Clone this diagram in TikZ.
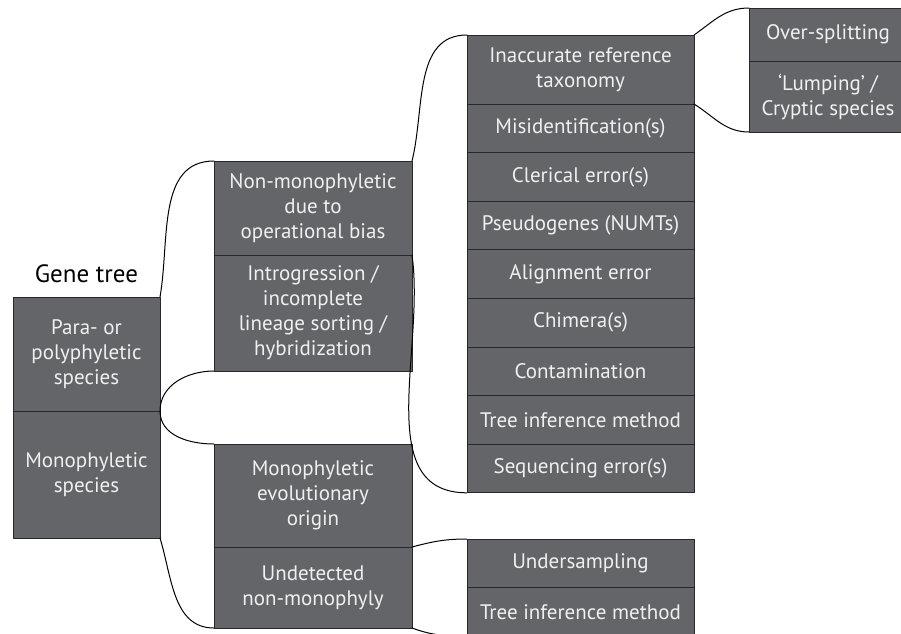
\documentclass[tikz,border=0pt]{standalone}
\usepackage{fontspec}
\setmainfont{PT Sans}
\usetikzlibrary{positioning}
\definecolor{boxgray}{RGB}{100,101,105}
\definecolor{boxline}{RGB}{40,40,44}
\begin{document}
\begin{tikzpicture}[x=1pt,y=-1pt, line join=round, line cap=round,
	font=\fontsize{21}{25}\selectfont,
	box/.style={draw=boxline, line width=1pt, fill=boxgray, text=white!94!black,
		align=center, inner sep=0pt, outer sep=0pt, anchor=north west},
	colA/.style={box, minimum width=147pt},
	colB/.style={box, minimum width=198pt},
	colC/.style={box, minimum width=227pt, minimum height=48.6pt},
	colD/.style={box, minimum width=158pt},
	link/.style={line width=1pt}]
	\useasboundingbox (0,0) rectangle (901,633);
	\clip (0,0) rectangle (901,633);
	%Cot 1
	\node[colA, minimum height=114pt] (para) at (13,297) {Para- or\\polyphyletic\\species};
	\node[colA, minimum height=127pt, below=0pt of para] (mono) {Monophyletic\\species};
	\node[above=14pt of para, inner sep=0pt, font=\fontsize{25}{30}\selectfont] (gene) {Gene tree};
	%Cot 2
	\node[colB, minimum height=94pt] (nonmono) at (214,161) {Non-monophyletic\\due to\\operational bias};
	\node[colB, minimum height=116pt, below=0pt of nonmono] (introg) {Introgression /\\incomplete\\lineage sorting /\\hybridization};
	\node[colB, minimum height=103pt] (monoevol) at (214,444) {Monophyletic\\evolutionary\\origin};
	\node[colB, minimum height=81pt, below=0pt of monoevol] (undet) {Undetected\\non-monophyly};
	%Cot 3
	\node[colC, minimum height=69pt] (e0) at (467,35) {Inaccurate reference\\taxonomy};
	\foreach \txt [count=\i, remember=\i as \j (initially 0)] in {Misidentification(s),Clerical error(s),Pseudogenes (NUMTs),Alignment error,Chimera(s),Contamination,Tree inference method,Sequencing error(s)}
		\node[colC, below=0pt of e\j] (e\i) {\txt};
	\node[colC] (under) at (467,539) {Undersampling};
	\node[colC, below=0pt of under] (treeb) {Tree inference method};
	%Cot 4
	\node[colD, minimum height=53pt] (split) at (749,8) {Over-splitting};
	\node[colD, minimum height=71pt, below=0pt of split] (lump) {‘Lumping’ /\\Cryptic species};
	%Duong noi
	\draw[link] (para.north east) to[out=80,in=180] (nonmono.north west);
	\draw[link] (para.south east) to[out=90,in=180] (introg.south west);
	\draw[link] (mono.north east) to[out=-90,in=180] (monoevol.north west);
	\draw[link] (mono.south east) to[out=-73,in=180] (undet.south west);
	\draw[link] (nonmono.north east) to[out=76,in=180] (e0.north west);
	\draw[link] (nonmono.south east) to[out=-82,in=180] (e8.south west);
	\draw[link] (undet.north east) to[out=15,in=180] (under.north west);
	\draw[link] (undet.south east) to[out=-20,in=180] (treeb.south west);
	\draw[link] (e0.north east) to[out=35,in=180] (split.north west);
	\draw[link] (e0.south east) to[out=-32,in=180] (lump.south west);
\end{tikzpicture}
\end{document}
